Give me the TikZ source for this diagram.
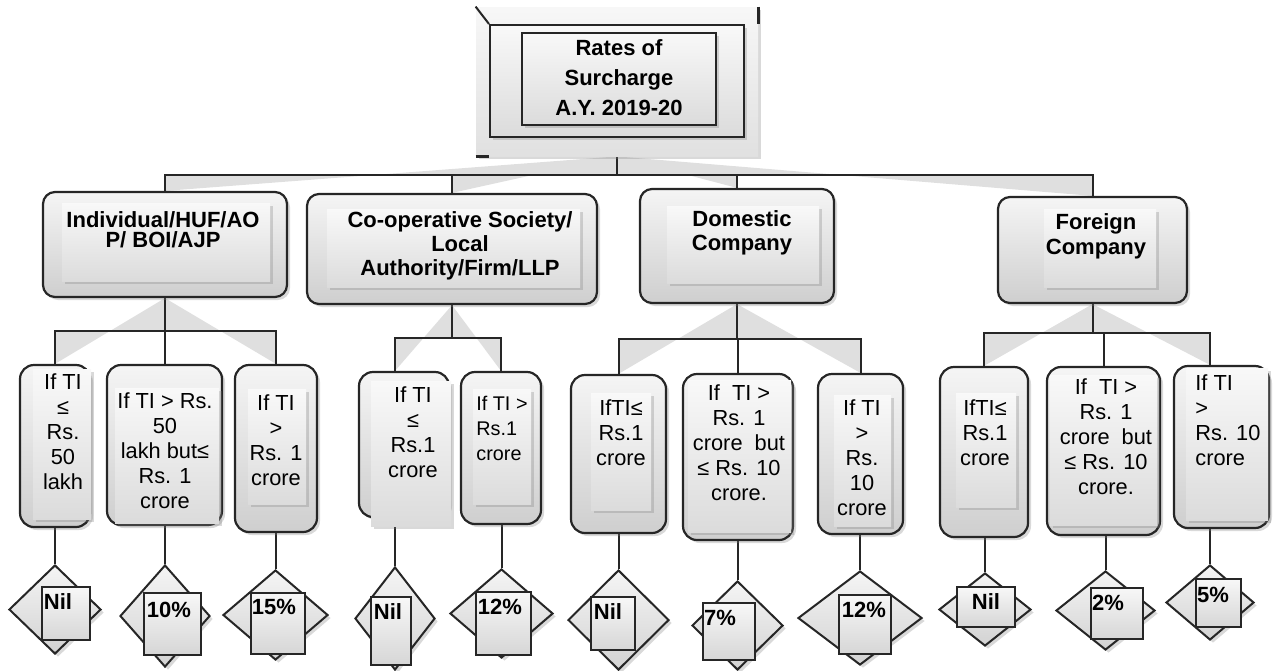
\documentclass[tikz,border=0pt]{standalone}
\usepackage{fontspec}
\setmainfont{Liberation Sans}
\usetikzlibrary{shapes.geometric,shadows,fit}
\pgfdeclarelayer{bg}
\pgfsetlayers{bg,main}

\tikzset{
  softshadow/.style={drop shadow={opacity=.3, shadow xshift=1.5pt, shadow yshift=-1.5pt}},
  outerbox/.style={draw=black!85, line width=1.1pt, rounded corners=6pt, top color=gray!8, bottom color=gray!38, inner sep=0pt, softshadow},
  innerbox/.style={top color=gray!5, bottom color=gray!28, inner sep=0pt, softshadow},
  headbox/.style={innerbox, draw=black!85, line width=1pt},
  conn/.style={draw=black!85, line width=1pt},
  fan/.style={fill=gray!25},
  rate/.style={diamond, draw=black!85, line width=1pt, top color=gray!8, bottom color=gray!35, inner sep=0pt, softshadow},
  ratebox/.style={draw=black!85, line width=1pt, top color=gray!6, bottom color=gray!32, inner sep=0pt},
  ratetxt/.style={font=\fontsize{11}{12}\selectfont\bfseries, inner sep=0pt},
  cattxt/.style={font=\fontsize{11}{#1}\selectfont\bfseries, align=center, inner sep=0pt},
  cattxt/.default=12,
  condtxt/.style={font=\fontsize{10.9}{12.5}\selectfont, align=center, inner sep=0pt},
}

\begin{document}
\begin{tikzpicture}[x=0.5pt, y=-0.5pt]
\useasboundingbox (0,0) rectangle (1274,670);

% title block
\node[fit={(476,7) (758,156)}, inner sep=0pt, top color=gray!6, bottom color=gray!24, softshadow] (top) {};
\node[headbox, fit={(490,25) (744,137)}] (tin1) {};
\node[headbox, fit={(522,33) (716,125)}] (tin2) {};
\draw[conn] (top.north west) -- (tin1.north west);
\draw[conn, line width=1.4pt] (top.north east) -- (top.north east |- tin1.north);
\draw[conn, line width=1.4pt] (top.south west) -- (top.south west -| tin1.west);
\node[cattxt=15] (toptxt) at (619,78) {Rates of\\Surcharge\\A.Y. 2019-20};

% assessee categories
\node[outerbox, fit={(43,192) (287,297)}] (ind) {};
\node[innerbox, fit={(62,203) (270,281)}] (indin) {};
\node[cattxt=10] (indtxt) at (163,230) {Individual/HUF/AO\\P/ BOI/AJP};

\node[outerbox, fit={(307,194) (597,304)}] (coop) {};
\node[innerbox, fit={(327,209) (580,287)}] (coopin) {};
\node[cattxt] (cooptxt) at (460,246) {Co-operative Society/\\Local\\Authority/Firm/LLP};

\node[outerbox, fit={(640,189) (834,303)}] (dom) {};
\node[innerbox, fit={(667,206) (819,283)}] (domin) {};
\node[cattxt] (domtxt) at (742,233) {Domestic\\Company};

\node[outerbox, fit={(998,197) (1187,303)}] (fore) {};
\node[innerbox, fit={(1044,209) (1156,287)}] (forein) {};
\node[cattxt=12.5] (foretxt) at (1096,236) {Foreign\\Company};

% income slabs
\node[outerbox, rounded corners=7pt, fit={(20,365) (90,527)}] (i1) {};
\node[innerbox, fit={(33,369) (91,519)}] (i1in) {};
\node[condtxt] (i1txt) at (63,432) {If TI\\≤\\Rs.\\50\\lakh};

\node[outerbox, rounded corners=7pt, fit={(107,365) (222,525)}] (i2) {};
\node[innerbox, fit={(115,388) (219,523)}] (i2in) {};
\node[condtxt] (i2txt) at (165,451) {If TI > Rs.\\50\\lakh but≤\\Rs. 1\\crore};

\node[outerbox, rounded corners=7pt, fit={(235,365) (317,532)}] (i3) {};
\node[innerbox, fit={(248,389) (306,504)}] (i3in) {};
\node[condtxt] (i3txt) at (276,440) {If TI\\>\\Rs. 1\\crore};

\node[outerbox, rounded corners=7pt, fit={(359,372) (449,517)}] (c1) {};
\node[innerbox, fit={(371,381) (451,526)}] (c1in) {};
\node[condtxt] (c1txt) at (413,432) {If TI\\≤\\Rs.1\\crore};

\node[outerbox, rounded corners=7pt, fit={(461,372) (541,524)}] (c2) {};
\node[innerbox, fit={(473,389) (531,504)}] (c2in) {};
\node[condtxt, font=\fontsize{9.9}{12.5}\selectfont, align=left, anchor=west] (c2txt) at (476,428) {If TI >\\Rs.1\\crore};

\node[outerbox, rounded corners=7pt, fit={(571,375) (666,533)}] (d1) {};
\node[innerbox, fit={(591,393) (651,510)}] (d1in) {};
\node[condtxt] (d1txt) at (621,433) {IfTI≤\\Rs.1\\crore};

\node[outerbox, rounded corners=7pt, fit={(683,374) (793,540)}] (d2) {};
\node[innerbox, fit={(688,380) (791,532)}] (d2in) {};
\node[condtxt] (d2txt) at (739,443) {If~~TI >\\Rs. 1\\crore~~but\\≤ Rs. 10\\crore.};

\node[outerbox, rounded corners=7pt, fit={(818,374) (903,534)}] (d3) {};
\node[innerbox, fit={(834,395) (891,526)}] (d3in) {};
\node[condtxt] (d3txt) at (862,458) {If TI\\>\\Rs.\\10\\crore};

\node[outerbox, rounded corners=7pt, fit={(940,367) (1028,537)}] (f1) {};
\node[innerbox, fit={(956,393) (1016,507)}] (f1in) {};
\node[condtxt] (f1txt) at (985,433) {IfTI≤\\Rs.1\\crore};

\node[outerbox, rounded corners=7pt, fit={(1047,367) (1160,535)}] (f2) {};
\node[innerbox, fit={(1050,375) (1157,525)}] (f2in) {};
\node[condtxt] (f2txt) at (1106,437) {If~~TI >\\Rs. 1\\crore~~but\\≤ Rs. 10\\crore.};

\node[outerbox, rounded corners=7pt, fit={(1174,366) (1269,528)}] (f3) {};
\node[innerbox, fit={(1186,368) (1268,520)}] (f3in) {};
\node[condtxt, align=left, anchor=west] (f3txt) at (1195,420) {If TI\\>\\Rs. 10\\crore};

% surcharge rates
\foreach \n/\x/\y/\w/\h in {dm1/55/609.5/46/44.5, dm2/165/616/45/51, dm3/275.5/615/52.5/45,
    dm4/395/618.5/40/51.5, dm5/501.5/613.5/51.5/44.5, dm6/618.5/620/50.5/50,
    dm7/737.5/625.5/45.5/44.5, dm8/860/618/62/47, dm9/985/609.5/46/36.5,
    dm10/1105.5/610.5/49.5/39.5, dm11/1210/602.5/44/37.5}
  \node[rate, minimum width=\w pt, minimum height=\h pt] (\n) at (\x,\y) {};

\foreach \n/\xa/\ya/\xb/\yb in {s1/42/587/90/640, s2/144/593/201/655, s3/251/593/305/654,
    s4/371/597/411/665, s5/476/592/531/655, s6/591/597/635/650, s7/703/603/755/660,
    s8/839/595/891/654, s9/957/587/1015/627, s10/1091/588/1143/639, s11/1196/579/1241/627}
  \node[ratebox, fit={(\xa,\ya) (\xb,\yb)}] (\n) {};

\foreach \n/\x/\y/\t in {l1/58/602/Nil, l2/169/610/10\%, l3/274/607/15\%, l4/388/612/Nil,
    l5/500/607/12\%, l6/608/612/Nil, l7/720/618/7\%, l8/864/610/12\%, l9/986/602/Nil,
    l10/1108/603/2\%, l11/1213/595/5\%}
  \node[ratetxt] (\n) at (\x,\y) {\t};

\coordinate (bus0) at (617,175);
\coordinate (busI) at (165,331);
\coordinate (busC) at (452,338);
\coordinate (busD) at (737,339);
\coordinate (busF) at (1092.5,333);

\begin{pgfonlayer}{bg}
  % grey fans behind the elbows
  \foreach \c in {ind,coop,dom,fore}
    \fill[fan] (top.south) -- (bus0) -- (\c.north |- bus0) -- (\c.north) -- cycle;
  \fill[fan] (ind.south) -- (busI) -- (i1.north |- busI) -- (i1.north) -- cycle;
  \fill[fan] (ind.south) -- (busI) -- (i3.north |- busI) -- (i3.north) -- cycle;
  \fill[fan] (coop.south) -- (busC) -- (dm4.north |- busC) -- (dm4.north |- c1.north) -- cycle;
  \fill[fan] (coop.south) -- (busC) -- (c2.north |- busC) -- (c2.north) -- cycle;
  \fill[fan] (dom.south) -- (busD) -- (d1.north |- busD) -- (d1.north) -- cycle;
  \fill[fan] (dom.south) -- (busD) -- (d3.north |- busD) -- (d3.north) -- cycle;
  \fill[fan] (fore.south) -- (busF) -- (f1.north |- busF) -- (f1.north) -- cycle;
  \fill[fan] (fore.south) -- (busF) -- (dm11.north |- busF) -- (dm11.north |- f3.north) -- cycle;

  % connectors
  \draw[conn] (top.south) -- (bus0);
  \draw[conn] (ind.north) |- (fore.north |- bus0) -- (fore.north);
  \draw[conn] (coop.north) -- (coop.north |- bus0);
  \draw[conn] (dom.north) -- (dom.north |- bus0);

  \draw[conn] (ind.south) -- (busI);
  \draw[conn] (i1.north) |- (i3.north |- busI) -- (i3.north);
  \draw[conn] (i2.north) -- (i2.north |- busI);
  \draw[conn] (coop.south) -- (busC);
  \draw[conn] (dm4.north |- c1.north) |- (c2.north |- busC) -- (c2.north);
  \draw[conn] (dom.south) -- (busD);
  \draw[conn] (d1.north) |- (d3.north |- busD) -- (d3.north);
  \draw[conn] (d2.north) -- (d2.north |- busD);
  \draw[conn] (fore.south) -- (busF);
  \draw[conn] (f1.north) |- (dm11.north |- busF) -- (dm11.north |- f3.north);
  \draw[conn] (f2.north) -- (f2.north |- busF);

  \foreach \b/\d in {i1/dm1, i2/dm2, i3/dm3, c1/dm4, c2/dm5, d1/dm6, d2/dm7, d3/dm8, f1/dm9, f2/dm10, f3/dm11}
    \draw[conn] (\d.north) -- (\d.north |- \b.south);
\end{pgfonlayer}
\end{tikzpicture}
\end{document}
